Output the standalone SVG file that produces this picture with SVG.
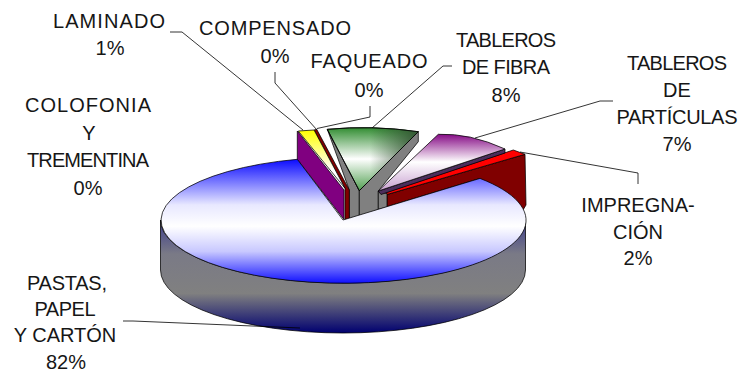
<svg xmlns="http://www.w3.org/2000/svg" width="742" height="372" viewBox="0 0 742 372">
<style>
.lbl{font-family:"Liberation Sans",Arial,sans-serif;font-size:20px;fill:#161616;text-anchor:middle}
.lead{stroke:#000;stroke-width:0.8;fill:none}
.out{stroke:#000;stroke-width:0.75;stroke-linejoin:round}
</style>
<defs>
<linearGradient id="gSide" gradientUnits="userSpaceOnUse" x1="0" y1="220" x2="0" y2="333">
<stop offset="0" stop-color="#3c3c8c"/>
<stop offset="0.3" stop-color="#7a7a86"/>
<stop offset="0.65" stop-color="#808080"/>
<stop offset="1" stop-color="#000070"/>
</linearGradient>
<linearGradient id="gTop" gradientUnits="userSpaceOnUse" x1="0" y1="157" x2="0" y2="283">
<stop offset="0" stop-color="#0000ff"/>
<stop offset="0.38" stop-color="#e8e8ff"/>
<stop offset="0.55" stop-color="#ffffff"/>
<stop offset="0.75" stop-color="#c8c8ff"/>
<stop offset="1" stop-color="#1010ff"/>
</linearGradient>
<linearGradient id="gGreen" gradientUnits="userSpaceOnUse" x1="0" y1="127" x2="0" y2="191">
<stop offset="0" stop-color="#2e8b2e"/>
<stop offset="0.5" stop-color="#ffffff"/>
<stop offset="1" stop-color="#4f9f4f"/>
</linearGradient>
<linearGradient id="gGreenDark" gradientUnits="userSpaceOnUse" x1="370" y1="0" x2="418" y2="0">
<stop offset="0" stop-color="#2f4f2f" stop-opacity="0"/>
<stop offset="1" stop-color="#2f4f2f" stop-opacity="0.9"/>
</linearGradient>
<linearGradient id="gYellow" gradientUnits="userSpaceOnUse" x1="0" y1="130" x2="0" y2="170">
<stop offset="0" stop-color="#ffff00"/>
<stop offset="1" stop-color="#ffffff"/>
</linearGradient>
<linearGradient id="gPart" gradientUnits="userSpaceOnUse" x1="0" y1="133" x2="0" y2="191">
<stop offset="0" stop-color="#800080"/>
<stop offset="0.5" stop-color="#ffffff"/>
<stop offset="1" stop-color="#c8a0d0"/>
</linearGradient>
</defs>

<g id="pastas">
<path class="out" fill="url(#gSide)" d="M160.5,220 A182.5,63 0 0 0 525.5,220 L525.5,270 A182.5,63 0 0 1 160.5,270 Z"/>
</g>

<g id="impregnacion">
<path class="out" fill="#800000" d="M387,194.5 L525,154.3 L526,205 L520,215 L480,178.4 L387,206.7 Z"/>
<path class="out" fill="#ff0000" d="M513.3,150 L525,154.3 L387,194.5 L383,193.5 Z"/>
</g>

<g id="tableros-fibra">
<path class="out" fill="#808080" d="M327.3,129.3 L359.3,190.7 L359.3,217 L349.3,219.5 L349.3,190 Z"/>
<path class="out" fill="#808080" d="M418.3,131.7 L418.3,141.7 L378.3,191 L378.3,209.5 L359.3,217 L359.3,190.7 Z"/>
<path class="out" fill="url(#gGreen)" d="M327.3,129.3 Q372,125 418.3,131.7 L359.3,190.7 Z"/>
<path fill="url(#gGreenDark)" d="M327.3,129.3 Q372,125 418.3,131.7 L359.3,190.7 Z"/>
<path class="out" fill="none" d="M327.3,129.3 Q372,125 418.3,131.7 L359.3,190.7 Z"/>
</g>

<g id="tableros-particulas">
<path class="out" fill="#808080" d="M378.3,191 L387,193.5 L387,207 L378.3,209.5 Z"/>
<path class="out" fill="#4b2d5b" d="M505,149 L505,153 L381,194.5 L378.3,191 Z"/>
<path class="out" fill="url(#gPart)" d="M438.3,134.3 Q470,133 505,149 L378.3,191 Z"/>
</g>

<g id="compensado-faqueado">
<path class="out" fill="#800000" d="M314,130 L316.7,129.3 L349.3,190 L349.3,219.5 L345,219.5 L345,188.3 Z"/>
</g>

<g id="laminado">
<path class="out" fill="url(#gYellow)" d="M298.3,131 L314,130 L345,188.3 Z"/>
</g>

<g id="colofonia">
<path class="out" fill="#800080" d="M297.3,131 L344,190 L344,219.5 L297.3,159.3 Z"/>
</g>

<g id="pastas-top">
<path class="out" fill="url(#gTop)" d="M343,220 L480,178.4 A182.5,63 0 1 1 297.3,159.3 Z"/>
</g>

<g id="connectors">
<polyline class="lead" points="170,32 182,32 303,130"/>
<polyline class="lead" points="275,72 275,83 317,130"/>
<polyline class="lead" points="370,106 370,117 317,128.5"/>
<polyline class="lead" points="452,66 443,66 372,128"/>
<polyline class="lead" points="613,101 600,101 475,138"/>
<polyline class="lead" points="638,184 638,173 520,152"/>
<polyline class="lead" points="123,321 133,321 300,328"/>
</g>

<g id="labels">
<text class="lbl" x="109" y="28" textLength="112">LAMINADO</text>
<text class="lbl" x="110" y="55">1%</text>
<text class="lbl" x="275" y="35" textLength="152">COMPENSADO</text>
<text class="lbl" x="275" y="63">0%</text>
<text class="lbl" x="369" y="68" textLength="117">FAQUEADO</text>
<text class="lbl" x="369" y="97">0%</text>
<text class="lbl" x="506" y="47" textLength="100">TABLEROS</text>
<text class="lbl" x="506" y="74" textLength="88">DE FIBRA</text>
<text class="lbl" x="506" y="102">8%</text>
<text class="lbl" x="677" y="70" textLength="100">TABLEROS</text>
<text class="lbl" x="677" y="97">DE</text>
<text class="lbl" x="677" y="124" textLength="121">PARTÍCULAS</text>
<text class="lbl" x="677" y="151">7%</text>
<text class="lbl" x="638" y="212">IMPREGNA-</text>
<text class="lbl" x="638" y="239">CIÓN</text>
<text class="lbl" x="638" y="265">2%</text>
<text class="lbl" x="88" y="112" textLength="126">COLOFONIA</text>
<text class="lbl" x="89" y="140">Y</text>
<text class="lbl" x="88" y="167" textLength="122">TREMENTINA</text>
<text class="lbl" x="88" y="195">0%</text>
<text class="lbl" x="67" y="290" textLength="80">PASTAS,</text>
<text class="lbl" x="65" y="316" textLength="61">PAPEL</text>
<text class="lbl" x="65" y="342">Y CARTÓN</text>
<text class="lbl" x="66" y="369">82%</text>
</g>
</svg>
